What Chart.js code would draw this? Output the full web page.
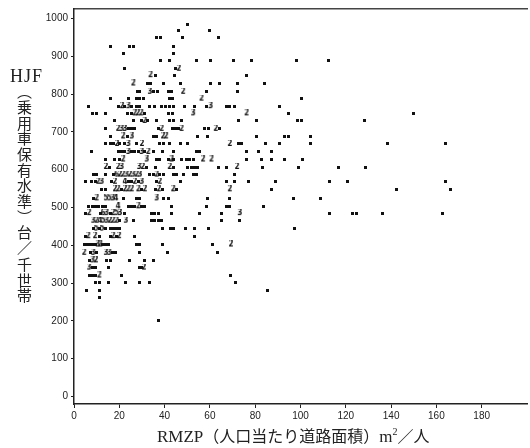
<!DOCTYPE html>
<html>
<head>
<meta charset="utf-8">
<script src="https://cdn.jsdelivr.net/npm/chart.js@4.4.1/dist/chart.umd.min.js"></script>
<style>
  body { margin: 0; background: #fff; }
  #page { position: relative; width: 530px; height: 448px; overflow: hidden; background: #fff; }
  #chartBox { position: absolute; left: 0; top: 0; width: 530px; height: 448px; }
  .serif { font-family: "Liberation Serif", "DejaVu Serif", serif; color: #222; }
  #yName { position: absolute; left: 10px; top: 67px; font-size: 18px; line-height: 1; letter-spacing: 1px; }
  #yUnit { position: absolute; left: 17px; top: 84px; writing-mode: vertical-rl; font-family: "Noto Sans CJK JP", sans-serif; font-size: 15px; line-height: 1; letter-spacing: 0.7px; color: #222; }
  #xName { position: absolute; left: 157px; top: 427px; font-size: 17px; line-height: 1; white-space: nowrap; color: #222; }
  #xName .jp { font-family: "Noto Sans CJK JP", sans-serif; font-size: 16px; }
  #xName sup { font-size: 10px; line-height: 0; vertical-align: 7px; }
</style>
</head>
<body>
<div id="page">
  <div id="chartBox"><canvas id="scatter" width="530" height="448"></canvas></div>
  <div id="yName" class="serif">HJF</div>
  <div id="yUnit">（乗用車保有水準）台／千世帯</div>
  <div id="xName"><span class="serif">RMZP</span><span class="jp">（人口当たり道路面積）</span><span class="serif">m<sup>2</sup></span><span class="jp">／人</span></div>
</div>
<script>
// 軸目盛
const xTicks = [0, 20, 40, 60, 80, 100, 120, 140, 160, 180];
const yTicks = [0, 100, 200, 300, 400, 500, 600, 700, 800, 900, 1000];

// 行ごとの HJF 値（ラインプリンタの行）
const rowHjf = [985, 968, 949, 927, 908, 889, 867, 850, 828, 806, 788, 768, 749, 729, 708, 688, 668, 647, 627, 607,
  587, 568, 548, 524, 503, 485, 465, 444, 424, 402, 380, 360, 341, 320, 301, 281, 261, 202];

// 各行の RMZP 値
const rowRmzp = [
  [50.2],
  [46.0, 60.0],
  [36.6, 38.4, 47.9, 64.0],
  [15.9, 24.4, 26.2, 43.8],
  [21.7, 43.8],
  [38.2, 42.3, 54.1, 60.3, 70.3, 78.4, 98.2, 112.2],
  [22.1, 44.6, 46.3],
  [33.8, 36.0, 44.2, 76.2],
  [26.2, 32.3, 33.8, 39.4, 46.8, 60.3, 64.4, 72.2, 84.3],
  [27.9, 29.1, 33.5, 35.3, 36.9, 41.6, 43.1, 48.2, 58.5, 72.0],
  [15.9, 24.0, 27.7, 29.1, 30.6, 42.3, 43.5, 56.3, 100.4],
  [6.3, 19.5, 21.2, 22.5, 24.0, 25.5, 27.7, 29.1, 33.5, 35.7, 38.8, 40.6, 42.3, 44.1, 49.0, 53.4, 58.5, 60.3, 67.4, 68.8, 71.0, 90.6],
  [8.1, 10.0, 14.1, 23.8, 25.3, 26.8, 28.2, 29.7, 31.2, 41.6, 43.5, 52.6, 76.2, 94.5, 150.0],
  [18.1, 26.2, 29.9, 31.2, 32.6, 36.6, 42.3, 43.8, 47.5, 72.5, 80.6, 98.5, 100.4, 128.4],
  [14.1, 19.5, 21.0, 22.5, 24.0, 25.5, 26.9, 37.2, 38.7, 43.7, 45.0, 46.3, 47.5, 57.8, 59.2, 62.6, 64.4],
  [15.9, 21.7, 23.4, 25.5, 35.0, 36.6, 39.3, 40.7, 54.6, 59.0, 80.6, 92.8, 94.8, 104.5],
  [14.1, 15.9, 17.3, 19.0, 20.3, 22.5, 24.0, 27.7, 30.0, 37.9, 39.4, 42.3, 46.8, 50.3, 68.8, 72.5, 74.0, 84.7, 90.9, 104.5, 138.2, 164.0],
  [7.8, 19.5, 21.0, 22.5, 24.0, 25.5, 26.9, 28.4, 29.9, 31.3, 32.8, 35.0, 39.1, 43.8, 54.1, 55.3, 76.2, 81.6, 87.2],
  [14.1, 18.1, 20.0, 21.7, 32.1, 36.5, 37.9, 41.6, 43.1, 44.1, 47.5, 49.7, 51.2, 52.6, 57.0, 60.7, 76.2, 82.8, 87.2, 92.8, 100.9],
  [14.1, 15.6, 19.5, 21.0, 28.8, 30.4, 32.1, 36.0, 42.3, 43.8, 50.3, 51.7, 53.2, 54.7, 63.7, 67.4, 72.0, 83.1, 98.9, 116.6, 128.7],
  [8.5, 10.0, 13.7, 17.3, 18.8, 20.3, 21.7, 23.2, 24.7, 26.2, 27.7, 29.1, 33.5, 35.0, 36.5, 37.9, 39.4, 43.8, 45.3, 48.2, 52.6, 54.1, 71.0],
  [4.9, 7.8, 9.3, 10.7, 12.2, 16.6, 18.1, 22.5, 24.0, 25.5, 26.9, 28.4, 29.9, 36.5, 37.9, 46.8, 67.4, 71.0, 76.9, 89.0, 112.6, 120.7, 164.1],
  [12.2, 14.1, 18.1, 19.5, 21.0, 22.5, 24.0, 25.5, 28.4, 29.9, 31.3, 36.0, 37.5, 39.0, 43.8, 45.3, 68.8, 87.2, 142.3, 166.3],
  [8.5, 10.0, 14.1, 15.6, 17.1, 18.5, 21.7, 27.7, 29.1, 36.5, 39.4, 41.6, 59.0, 68.8, 97.0, 109.0],
  [6.6, 8.1, 9.6, 11.0, 12.5, 14.0, 19.5, 24.0, 25.5, 26.9, 28.4, 29.9, 31.3, 43.1, 58.5, 67.4, 68.8, 83.5],
  [4.9, 6.7, 11.5, 12.9, 14.4, 15.9, 17.3, 18.8, 20.3, 22.1, 34.3, 35.7, 37.2, 43.1, 55.3, 65.2, 73.2, 112.9, 122.8, 124.7, 136.4, 162.5],
  [8.5, 10.0, 11.5, 12.9, 14.4, 15.9, 17.3, 18.8, 20.3, 22.9, 26.2, 34.3, 35.7, 37.2, 38.7, 65.2, 72.9],
  [8.5, 9.8, 11.1, 12.4, 13.8, 16.3, 17.6, 18.9, 20.2, 39.1, 42.7, 43.8, 49.4, 53.1, 59.2, 97.2],
  [4.9, 6.3, 9.3, 11.2, 15.9, 17.3, 18.8, 19.9, 26.9, 53.1],
  [4.5, 5.7, 6.9, 8.1, 9.3, 10.5, 11.6, 12.8, 14.0, 15.1, 27.7, 29.1, 39.1, 61.0, 69.3],
  [4.5, 7.1, 8.5, 10.0, 14.1, 15.6, 17.1, 18.5, 28.8, 41.2, 63.2],
  [6.7, 8.2, 9.7, 14.4, 15.9, 24.7, 31.3, 35.3],
  [6.7, 8.2, 9.7, 15.1, 28.8, 29.9, 30.9],
  [6.7, 8.2, 9.7, 11.2, 21.0, 69.3],
  [9.3, 11.2, 15.1, 22.9, 29.1, 33.2, 71.3],
  [5.3, 11.2, 85.3],
  [11.2],
  [37.5]
];

// 各点の記号（* = 1件, 数字 = 重なり件数）。空白は区切りのみ
const rowMarks = [
  "*",
  "**",
  "****",
  "****",
  "**",
  "********",
  "**2",
  "2***",
  "2********",
  "**3****2**",
  "*******2*",
  "**2*3* ** ** **** ** *3 *** *",
  "*** **222* ** 3 2 * *",
  "* * *2* * ** * * * ** *",
  "* 233*** *2 ***2 ** 2*",
  "* 2*3 **22 ** * ** *",
  "***2* *3 * 2 ** * * * 2** * * * * *",
  "* ***3***3*2 ** * ** * * *",
  "* **2 3 ** *2* **** 2 2 *****",
  "2* 23 32* * 2* **** ** 2 * * * *",
  "** * *622323 23 **2** ** * ** *",
  "* **23 *2 4**2*3 *2 * * * * * * * *",
  "** 22*222 2*2 *2* 2* 2 * * *",
  "*2 5534 * ** 3** * * * *",
  "****** 4 ***2** * * ** *",
  "* 2 *63*253 * *** * * * 3 * ** * *",
  "32453222* 3 * **** * *",
  "*5*5* **** * ** * * * *",
  "*2 2* *2*2 * *",
  "*****32*** ** * * 2",
  "2 *3* 33** * * *",
  "*32 ** * * *",
  "3** * **2",
  "***2 * *",
  "** * * * * *",
  "* * *",
  "*",
  "*"
];

const points = [];
const marks = [];
rowHjf.forEach((hjf, i) => {
  const m = rowMarks[i].replace(/ /g, "");
  if (m.length !== rowRmzp[i].length) console.warn("row", i, m.length, rowRmzp[i].length);
  rowRmzp[i].forEach((x, j) => {
    points.push({ x: x, y: hjf });
    marks.push(m[j] || "*");
  });
});

// プリンタ記号をキャンバスで作る
const glyphCache = {};
function glyph(ch) {
  if (glyphCache[ch]) return glyphCache[ch];
  const c = document.createElement("canvas");
  const g = c.getContext("2d");
  g.fillStyle = "#111";
  if (ch === "*") {
    c.width = 3; c.height = 3;
    g.fillStyle = "#111";
    g.fillRect(0, 0, 3, 3);
  } else {
    c.width = 6; c.height = 8;
    g.fillStyle = "#111";
    g.font = 'bold 8px "DejaVu Sans Condensed", "DejaVu Sans", sans-serif';
    g.textAlign = "center";
    g.textBaseline = "middle";
    g.fillText(ch, 3, 4.3);
  }
  glyphCache[ch] = c;
  return c;
}

const tickFont = { family: '"Liberation Sans", Arial, sans-serif', size: 10 };

new Chart(document.getElementById("scatter").getContext("2d"), {
  type: "scatter",
  data: {
    datasets: [{
      data: points,
      pointStyle: ctx => glyph(marks[ctx.dataIndex]),
      pointRadius: 2,
      pointHoverRadius: 2
    }]
  },
  options: {
    responsive: false,
    animation: false,
    events: [],
    layout: { padding: { top: 5, right: 3, left: 0, bottom: 0 } },
    plugins: { legend: { display: false }, tooltip: { enabled: false } },
    scales: {
      x: {
        type: "linear",
        min: 0,
        max: 200,
        afterFit: s => { s.height = 44; },
        afterBuildTicks: s => { s.ticks = xTicks.map(v => ({ value: v })); },
        grid: { drawOnChartArea: false, tickLength: 4, color: "#222" },
        border: { color: "#222", width: 1.5 },
        ticks: { color: "#222", font: tickFont, padding: 2, maxRotation: 0, callback: v => String(v) }
      },
      xTop: {
        axis: "x",
        type: "linear",
        position: "top",
        min: 0,
        max: 200,
        afterFit: s => { s.height = 0; },
        grid: { display: false },
        ticks: { display: false },
        border: { color: "#444", width: 1.5 }
      },
      y: {
        type: "linear",
        min: -20,
        max: 1025,
        afterFit: s => { s.width = 74; },
        afterBuildTicks: s => { s.ticks = yTicks.map(v => ({ value: v })); },
        grid: { drawOnChartArea: false, tickLength: 3, color: "#222" },
        border: { color: "#222", width: 1.5 },
        ticks: { color: "#222", font: tickFont, padding: 3, callback: v => String(v) }
      }
    }
  }
});
</script>
</body>
</html>
